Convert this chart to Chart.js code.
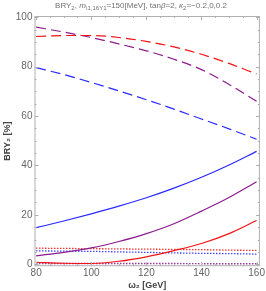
<!DOCTYPE html>
<html>
<head>
<meta charset="utf-8">
<script src="https://cdn.jsdelivr.net/npm/chart.js@4.4.1/dist/chart.umd.min.js"></script>
<style>
  html, body { margin: 0; padding: 0; background: #fff; }
  #wrap { width: 266px; height: 291px; }
</style>
</head>
<body>
<div id="wrap"><canvas id="chart"></canvas></div>
<script>
// datos
const omega2 = [80, 90, 100, 110, 120, 130, 140, 150, 160];
const xTicks = [80, 100, 120, 140, 160];
const yTicks = [0, 20, 40, 60, 80, 100];

// kappa2 = -0.2 (azul), 0 (morado), 0.2 (rojo)
const blueDashed   = [79.6, 76.8, 73.6, 70.2, 66.6, 62.8, 58.8, 54.8, 50.6];
const purpleDashed = [96.0, 94.0, 91.8, 89.2, 86.4, 83.0, 78.8, 72.8, 66.0];
const redDashed    = [92.2, 92.6, 92.6, 91.8, 90.2, 88.0, 85.0, 81.3, 77.0];

const blueSolid   = [14.8, 17.5, 20.4, 23.5, 26.9, 30.8, 35.2, 40.2, 45.7];
const purpleSolid = [3.4, 4.8, 6.6, 9.2, 12.4, 16.4, 21.5, 27.0, 33.4];
const redSolid    = [0.8, 0.4, 0.3, 1.2, 3.0, 5.5, 8.4, 12.4, 17.7];

const redDotted    = [6.5, 6.4, 6.3, 6.2, 6.1, 6.0, 5.9, 5.7, 5.6];
const blueDotted   = [5.4, 5.3, 5.2, 5.0, 4.8, 4.6, 4.4, 4.3, 4.1];
const purpleDotted = [0.3, 0.3, 0.3, 0.3, 0.3, 0.3, 0.2, 0.2, 0.2];

const RED = '#f01414';
const BLUE = '#2a2aff';
const PURPLE = '#8c1a8c';

function serie(values, color, dash) {
    return {
        data: omega2.map((x, i) => ({ x: x, y: values[i] })),
        borderColor: color,
        borderWidth: dash && dash[0] < 3 ? 1.3 : 1.2,
        borderDash: dash || [],
        pointRadius: 0,
        fill: false,
        cubicInterpolationMode: 'monotone'
    };
}

// marco con marcas hacia dentro, estilo Mathematica
const framePlugin = {
    id: 'frame',
    afterDraw(chart) {
        const ctx = chart.ctx;
        const a = chart.chartArea;
        const xs = chart.scales.x, ys = chart.scales.y;
        ctx.save();
        ctx.strokeStyle = '#b0b0b0';
        ctx.lineWidth = 1;
        ctx.strokeRect(a.left + 0.5, a.top + 0.5, a.right - a.left - 1, a.bottom - a.top - 1);
        ctx.beginPath();
        for (let v = 80; v <= 160; v += 5) {
            const p = Math.round(xs.getPixelForValue(v)) + 0.5;
            const len = v % 20 === 0 ? 4 : 2;
            ctx.moveTo(p, a.bottom); ctx.lineTo(p, a.bottom - len);
            ctx.moveTo(p, a.top); ctx.lineTo(p, a.top + len);
        }
        for (let v = 0; v <= 100; v += 5) {
            const p = Math.round(ys.getPixelForValue(v)) + 0.5;
            const len = v % 20 === 0 ? 4 : 2;
            ctx.moveTo(a.left, p); ctx.lineTo(a.left + len, p);
            ctx.moveTo(a.right, p); ctx.lineTo(a.right - len, p);
        }
        ctx.stroke();

        // título con subíndices
        const runs = [
            ['BRY', 'n'], ['2', 's'], [', ', 'n'], ['m', 'i'], ['\\1,16Y1', 's'],
            ['=150[MeV], tan', 'n'], ['β', 'i'], ['=2, ', 'n'], ['κ', 'i'], ['2', 's'],
            ['=\u22120.2,0,0.2', 'n']
        ];
        const fam = '"Liberation Sans", Arial, sans-serif';
        const fontFor = t => t === 's' ? '6px ' + fam : (t === 'i' ? 'italic 8px ' + fam : '8px ' + fam);
        let total = 0;
        runs.forEach(r => { ctx.font = fontFor(r[1]); total += ctx.measureText(r[0]).width; });
        let x = 141 - total / 2;
        ctx.fillStyle = '#707070';
        ctx.textBaseline = 'alphabetic';
        runs.forEach(r => {
            ctx.font = fontFor(r[1]);
            ctx.fillText(r[0], x, r[1] === 's' ? 10 : 8);
            x += ctx.measureText(r[0]).width;
        });
        ctx.restore();
    }
};

new Chart(document.getElementById('chart'), {
    type: 'line',
    data: {
        datasets: [
            serie(redDashed, RED, [10, 5]),
            serie(purpleDashed, PURPLE, [10, 5]),
            serie(blueDashed, BLUE, [10, 5]),
            serie(blueSolid, BLUE),
            serie(purpleSolid, PURPLE),
            serie(redSolid, RED),
            serie(redDotted, RED, [1.3, 1.7]),
            serie(blueDotted, BLUE, [1.3, 1.7]),
            serie(purpleDotted, PURPLE, [1.3, 1.7])
        ]
    },
    options: {
        responsive: true,
        maintainAspectRatio: false,
        animation: false,
        layout: { padding: { top: 16, right: 4, left: 2, bottom: 0 } },
        plugins: {
            legend: { display: false },
            tooltip: { enabled: false },
            title: { display: false }
        },
        scales: {
            x: {
                type: 'linear',
                min: 79.4,
                max: 161.2,
                afterBuildTicks: s => { s.ticks = xTicks.map(v => ({ value: v })); },
                grid: { display: false, drawTicks: false },
                border: { display: false },
                ticks: {
                    color: '#666',
                    font: { size: 10, family: '"Liberation Sans", Arial, sans-serif' },
                    padding: 1,
                    maxRotation: 0
                },
                title: {
                    display: true,
                    text: 'ω₂ [GeV]',
                    color: '#444',
                    font: { size: 9, weight: 'bold', family: '"Liberation Sans", Arial, sans-serif' },
                    padding: { top: 0, bottom: 0 }
                }
            },
            y: {
                min: -0.8,
                max: 100.5,
                afterBuildTicks: s => { s.ticks = yTicks.map(v => ({ value: v })); },
                grid: { display: false, drawTicks: false },
                border: { display: false },
                ticks: {
                    color: '#666',
                    font: { size: 10, family: '"Liberation Sans", Arial, sans-serif' },
                    padding: 2
                },
                title: {
                    display: true,
                    text: 'BRY₂ [%]',
                    color: '#444',
                    font: { size: 9, weight: 'bold', family: '"Liberation Sans", Arial, sans-serif' },
                    padding: { top: 0, bottom: 1 }
                }
            }
        }
    },
    plugins: [framePlugin]
});
</script>
</body>
</html>
